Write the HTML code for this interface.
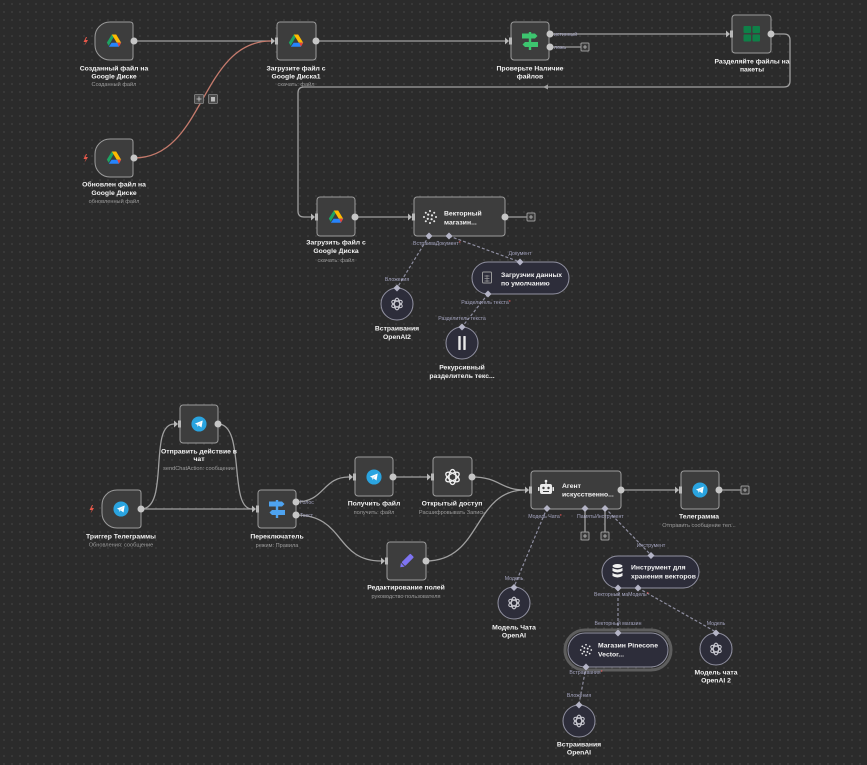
<!DOCTYPE html>
<html><head><meta charset="utf-8"><style>
html,body{margin:0;padding:0;background:#2b2b2b;}
svg{display:block;}
.t{font-family:"Liberation Sans",sans-serif;font-weight:bold;font-size:6.8px;fill:#f2f2f2;text-anchor:middle;}
.tl{font-family:"Liberation Sans",sans-serif;font-weight:bold;font-size:6.8px;fill:#f2f2f2;}
.s{font-family:"Liberation Sans",sans-serif;font-size:5.6px;fill:#9c9c9c;text-anchor:middle;}
.p{font-family:"Liberation Sans",sans-serif;font-size:5.2px;fill:#a4a4bf;}
.pc{font-family:"Liberation Sans",sans-serif;font-size:5.2px;fill:#a4a4bf;text-anchor:middle;}
.r{fill:#ff5a5a;}
.e{fill:none;stroke:#a0a0a0;stroke-width:1.3;}
.d{fill:none;stroke:#8e8ea0;stroke-width:1.2;stroke-dasharray:3 2;}
.n{fill:#3d3d3d;stroke:#9c9c9c;stroke-width:1;}
.c{fill:#2d2d3a;stroke:#9292a2;stroke-width:1;}
.o{fill:#c6c6c6;}
.dm{fill:#b4b4c6;}
.pl{fill:#3a3a3a;stroke:#9a9a9a;stroke-width:1;}
.plt{fill:none;stroke:#bdbdbd;stroke-width:0.8;}
</style></head><body>
<svg width="867" height="765" viewBox="0 0 867 765" xmlns="http://www.w3.org/2000/svg">
<defs>
<pattern id="g" width="8" height="8" patternUnits="userSpaceOnUse"><circle cx="4" cy="4" r="0.65" fill="#525252"/></pattern>
<symbol id="drive" viewBox="-8 -8 16 16">
<polygon points="-2.2,-6.5 1.2,-6.5 -3.6,1.8 -5.3,4.8 -7.2,1.6" fill="#1ea362"/>
<polygon points="-2.2,-6.5 2.2,-6.5 7.2,1.8 2.8,1.8" fill="#ffba00"/>
<polygon points="-2.4,1.8 7.2,1.8 4.9,5.8 -5.2,5.8" fill="#2684fc"/>
<polygon points="3.2,1.8 7.2,1.8 4.9,5.8" fill="#ea4335"/>
</symbol>
<symbol id="tg" viewBox="-9 -9 18 18">
<circle r="8.5" fill="#2aa4e0"/>
<polygon points="-4.6,-0.4 4.2,-3.9 2.8,4 -0.4,1.6 -1.8,3.2 -1.9,1" fill="#fff"/>
<polygon points="-1.9,1 3.2,-2.6 -0.4,1.6" fill="#c8e4f3"/>
</symbol>
<symbol id="oai" viewBox="-10 -10 20 20">
<g fill="none" stroke="currentColor" stroke-width="1.5">
<ellipse rx="3.8" ry="8.3"/>
<ellipse rx="3.8" ry="8.3" transform="rotate(60)"/>
<ellipse rx="3.8" ry="8.3" transform="rotate(120)"/>
</g>
</symbol>
<symbol id="vs" viewBox="-8 -8 16 16">
<g fill="#e8e8e8">
<circle cx="0" cy="-6" r="1"/><circle cx="4.2" cy="-4.2" r="1"/><circle cx="6" cy="0" r="1"/><circle cx="4.2" cy="4.2" r="1"/>
<circle cx="0" cy="6" r="1"/><circle cx="-4.2" cy="4.2" r="1"/><circle cx="-6" cy="0" r="1"/><circle cx="-4.2" cy="-4.2" r="1"/>
<circle cx="-1.8" cy="-2.4" r="1.1"/><circle cx="2" cy="-1.6" r="1.1"/><circle cx="1.6" cy="2.2" r="1.1"/><circle cx="-2.2" cy="1.8" r="1.1"/>
</g>
</symbol>
</defs>
<rect width="867" height="765" fill="#2b2b2b"/>
<rect width="867" height="765" fill="url(#g)"/>

<!-- ===== TOP EDGES ===== -->
<path class="e" d="M134,41 H271"/>
<path d="M134,158 C205,158 200,41 271,41" fill="none" stroke="#c47a6c" stroke-width="1.3"/>
<path class="e" d="M316,41 H505"/>
<path class="e" d="M550,34 H726"/>
<path class="e" d="M550,47 H581"/>
<path class="e" d="M771,34 H784 Q790,34 790,40 V81 Q790,87 784,87 H304 Q298,87 298,93 V211 Q298,217 304,217 H311"/>
<polygon points="543,87 548,84.5 548,89.5" fill="#a0a0a0"/>
<path class="e" d="M355,217 H408"/>
<path class="e" d="M505,217 H527"/>

<!-- red edge buttons -->
<rect x="194.5" y="94.5" width="9" height="9" rx="1" fill="#4a4a4a" stroke="#8a8a8a" stroke-width="0.8"/>
<path d="M199,96.5 V101.5 M196.5,99 H201.5" stroke="#ccc" stroke-width="0.8"/>
<rect x="208.5" y="94.5" width="9" height="9" rx="1" fill="#4a4a4a" stroke="#8a8a8a" stroke-width="0.8"/>
<rect x="211" y="97" width="4" height="4.5" fill="#bbb"/>

<!-- plus buttons top -->
<rect class="pl" x="581" y="43" width="8" height="8" rx="1"/><path class="plt" d="M585,45 V49 M583,47 H587"/>
<rect class="pl" x="527" y="213" width="8" height="8" rx="1"/><path class="plt" d="M531,215 V219 M529,217 H533"/>

<!-- ===== DASHED TOP ===== -->
<path class="d" d="M429,236 L397,288"/>
<path class="d" d="M449,236 L520,262"/>
<path class="d" d="M488,294 L462,327"/>

<!-- ===== TOP NODES ===== -->
<!-- N1 trigger -->
<path class="n" d="M110,22 H130 Q133,22 133,25 V57 Q133,60 130,60 H110 A15,15 0 0 1 95,45 V37 A15,15 0 0 1 110,22 Z"/>
<use href="#drive" x="106" y="33" width="16" height="16"/>
<circle class="o" cx="134" cy="41" r="3.5"/>
<polygon points="86,37 83.5,42 85.8,42 84.5,45.5 88,40 85.6,40 87,37" fill="#e8584a"/>
<text class="t" x="114" y="70.5">Созданный файл на</text>
<text class="t" x="114" y="78.5">Google Диске</text>
<text class="s" x="114" y="86">Созданный файл</text>

<!-- N2 trigger -->
<path class="n" d="M110,139 H130 Q133,139 133,142 V174 Q133,177 130,177 H110 A15,15 0 0 1 95,162 V154 A15,15 0 0 1 110,139 Z"/>
<use href="#drive" x="106" y="150" width="16" height="16"/>
<circle class="o" cx="134" cy="158" r="3.5"/>
<polygon points="86,154 83.5,159 85.8,159 84.5,162.5 88,157 85.6,157 87,154" fill="#e8584a"/>
<text class="t" x="114" y="186.5">Обновлен файл на</text>
<text class="t" x="114" y="195">Google Диске</text>
<text class="s" x="114" y="203">обновленный файл</text>

<!-- N3 -->
<rect class="n" x="277" y="22" width="39" height="38" rx="3"/>
<use href="#drive" x="288" y="33" width="16" height="16"/>
<polygon points="271,37.5 275,41 271,44.5" fill="#b8b8b8"/><rect x="275" y="37.5" width="3" height="7" fill="#b8b8b8"/>
<circle class="o" cx="316" cy="41" r="3.5"/>
<text class="t" x="296" y="70.5">Загрузите файл с</text>
<text class="t" x="296" y="78.5">Google Диска1</text>
<text class="s" x="296" y="86">скачать: файл</text>

<!-- N4 If -->
<rect class="n" x="511" y="22" width="38" height="38" rx="3"/>
<g fill="#3dc46f">
<rect x="528.8" y="32" width="2.4" height="18"/>
<polygon points="522,33.5 535,33.5 537.5,36 535,38.5 522,38.5"/>
<polygon points="538,42 525,42 522.5,44.5 525,47 538,47"/>
</g>
<polygon points="505,37.5 509,41 505,44.5" fill="#b8b8b8"/><rect x="509" y="37.5" width="3" height="7" fill="#b8b8b8"/>
<circle class="o" cx="550" cy="34" r="3.5"/>
<circle class="o" cx="550" cy="47" r="3.5"/>
<text class="p" x="554" y="35.8">истинный</text>
<text class="p" x="554" y="48.8">ложь</text>
<text class="t" x="530" y="70.5">Проверьте Наличие</text>
<text class="t" x="530" y="78.5">файлов</text>

<!-- N5 split -->
<rect class="n" x="732" y="15" width="39" height="38" rx="3"/>
<g fill="#0f8048">
<rect x="743.5" y="26" width="7.5" height="7" rx="1"/><rect x="752.5" y="26" width="7.5" height="7" rx="1"/>
<rect x="743.5" y="34.5" width="7.5" height="7" rx="1"/><rect x="752.5" y="34.5" width="7.5" height="7" rx="1"/>
</g>
<polygon points="726,30.5 730,34 726,37.5" fill="#b8b8b8"/><rect x="730" y="30.5" width="3" height="7" fill="#b8b8b8"/>
<circle class="o" cx="771" cy="34" r="3.5"/>
<text class="t" x="752" y="63.5">Разделяйте файлы на</text>
<text class="t" x="752" y="71.5">пакеты</text>

<!-- N6 -->
<rect class="n" x="317" y="197" width="38" height="39" rx="3"/>
<use href="#drive" x="328" y="209" width="16" height="16"/>
<polygon points="311,213.5 315,217 311,220.5" fill="#b8b8b8"/><rect x="315" y="213.5" width="3" height="7" fill="#b8b8b8"/>
<circle class="o" cx="355" cy="217" r="3.5"/>
<text class="t" x="336" y="244.5">Загрузить файл с</text>
<text class="t" x="336" y="253">Google Диска</text>
<text class="s" x="336" y="262">скачать: файл</text>

<!-- Vector store -->
<rect class="n" x="414" y="197" width="91" height="39" rx="3"/>
<use href="#vs" x="422" y="209" width="16" height="16"/>
<text class="tl" x="444" y="215.5">Векторный</text>
<text class="tl" x="444" y="224.5">магазин...</text>
<polygon points="408,213.5 412,217 408,220.5" fill="#b8b8b8"/><rect x="412" y="213.5" width="3" height="7" fill="#b8b8b8"/>
<circle class="o" cx="505" cy="217" r="3.5"/>
<polygon class="dm" points="429,232.5 432.5,236 429,239.5 425.5,236"/>
<polygon class="dm" points="449,232.5 452.5,236 449,239.5 445.5,236"/>
<text class="p" x="413" y="245">Встраива<tspan>Документ</tspan><tspan class="r">*</tspan></text>

<!-- Loader pill -->
<rect class="c" x="472" y="262" width="97" height="32" rx="16"/>
<rect x="482.5" y="272" width="9" height="11" rx="1" fill="none" stroke="#9a9a9a" stroke-width="1"/>
<path d="M484.5,276 H489.5 M484.5,278.5 H489.5 M484.5,281 H489.5 M487,275 V282" stroke="#9a9a9a" stroke-width="0.7"/>
<text class="tl" x="501" y="277">Загрузчик данных</text>
<text class="tl" x="501" y="285.5">по умолчанию</text>
<polygon class="dm" points="520,258.5 523.5,262 520,265.5 516.5,262"/>
<polygon class="dm" points="488,290.5 491.5,294 488,297.5 484.5,294"/>
<text class="pc" x="520" y="255">Документ</text>
<text class="pc" x="486" y="304">Разделитель текста<tspan class="r">*</tspan></text>

<!-- Emb2 circle -->
<circle class="c" cx="397" cy="304" r="16"/>
<use href="#oai" x="390" y="297" width="14" height="14" color="#c8c8d0"/>
<polygon class="dm" points="397,284.5 400.5,288 397,291.5 393.5,288"/>
<text class="pc" x="397" y="281">Вложения</text>
<text class="t" x="397" y="330.5">Встраивания</text>
<text class="t" x="397" y="339">OpenAI2</text>

<!-- Splitter circle -->
<circle class="c" cx="462" cy="343" r="16"/>
<rect x="458.3" y="336" width="2.4" height="14" rx="0.6" fill="#e8e8e8"/>
<rect x="463.3" y="336" width="2.4" height="14" rx="0.6" fill="#e8e8e8"/>
<polygon class="dm" points="462,323.5 465.5,327 462,330.5 458.5,327"/>
<text class="pc" x="462" y="320">Разделитель текста</text>
<text class="t" x="462" y="369.5">Рекурсивный</text>
<text class="t" x="462" y="378">разделитель текс...</text>

<!-- ===== BOTTOM EDGES ===== -->
<path class="e" d="M141,509 H252"/>
<path class="e" d="M141,509 C170,509 148,424 174,424"/>
<path class="e" d="M218,424 C246,424 228,509 252,509"/>
<path class="e" d="M296,502 C325,502 322,477 349,477"/>
<path class="e" d="M296,515 C345,515 335,561 381,561"/>
<path class="e" d="M393,477 H427"/>
<path class="e" d="M472,477 C500,477 500,490 525,490"/>
<path class="e" d="M426,561 C482,561 473,490 525,490"/>
<path class="e" d="M621,490 H675"/>
<path class="e" d="M719,490 H741"/>
<path class="e" d="M585,508 V532"/>
<path class="e" d="M605,508 V532"/>
<rect class="pl" x="741" y="486" width="8" height="8" rx="1"/><path class="plt" d="M745,488 V492 M743,490 H747"/>
<rect class="pl" x="581" y="532" width="8" height="8" rx="1"/><path class="plt" d="M585,534 V538 M583,536 H587"/>
<rect class="pl" x="601" y="532" width="8" height="8" rx="1"/><path class="plt" d="M605,534 V538 M603,536 H607"/>

<!-- dashed bottom -->
<path class="d" d="M547,508 L514,587"/>
<path class="d" d="M605,508 L651,555"/>
<path class="d" d="M618,588 L618,632"/>
<path class="d" d="M638,588 L716,632"/>
<path class="d" d="M586,667 L579,704"/>

<!-- ===== BOTTOM NODES ===== -->
<!-- Trigger telegram -->
<path class="n" d="M117,490 H138 Q141,490 141,493 V525 Q141,528 138,528 H117 A15,15 0 0 1 102,513 V505 A15,15 0 0 1 117,490 Z"/>
<use href="#tg" x="113" y="501" width="16" height="16"/>
<circle class="o" cx="141" cy="509" r="3.5"/>
<polygon points="92,505 89.5,510 91.8,510 90.5,513.5 94,508 91.6,508 93,505" fill="#e8584a"/>
<text class="t" x="121" y="538.5">Триггер Телеграммы</text>
<text class="s" x="121" y="546.5">Обновления: сообщение</text>

<!-- Send action -->
<rect class="n" x="180" y="405" width="38" height="38" rx="3"/>
<use href="#tg" x="191" y="416" width="16" height="16"/>
<polygon points="174,420.5 178,424 174,427.5" fill="#b8b8b8"/><rect x="178" y="420.5" width="3" height="7" fill="#b8b8b8"/>
<circle class="o" cx="218" cy="424" r="3.5"/>
<text class="t" x="199" y="453.5">Отправить действие в</text>
<text class="t" x="199" y="461">чат</text>
<text class="s" x="199" y="470">sendChatAction: сообщение</text>

<!-- Switch -->
<rect class="n" x="258" y="490" width="38" height="38" rx="3"/>
<g fill="#4ea3f0">
<rect x="275.8" y="500" width="2.4" height="18"/>
<polygon points="269,501.5 282,501.5 284.5,504 282,506.5 269,506.5"/>
<polygon points="285,510 272,510 269.5,512.5 272,515 285,515"/>
</g>
<polygon points="252,505.5 256,509 252,512.5" fill="#b8b8b8"/><rect x="256" y="505.5" width="3" height="7" fill="#b8b8b8"/>
<circle class="o" cx="296" cy="502" r="3.5"/>
<circle class="o" cx="296" cy="515" r="3.5"/>
<text class="p" x="300" y="503.8">Голос</text>
<text class="p" x="300" y="516.8">Текст</text>
<text class="t" x="277" y="538.5">Переключатель</text>
<text class="s" x="277" y="547">режим: Правила</text>

<!-- Get file -->
<rect class="n" x="355" y="457" width="38" height="39" rx="3"/>
<use href="#tg" x="366" y="469" width="16" height="16"/>
<polygon points="349,473.5 353,477 349,480.5" fill="#b8b8b8"/><rect x="353" y="473.5" width="3" height="7" fill="#b8b8b8"/>
<circle class="o" cx="393" cy="477" r="3.5"/>
<text class="t" x="374" y="505.5">Получить файл</text>
<text class="s" x="374" y="514">получить: файл</text>

<!-- Open access -->
<rect class="n" x="433" y="457" width="39" height="39" rx="3"/>
<use href="#oai" x="443.5" y="468" width="18" height="18" color="#eeeeee"/>
<polygon points="427,473.5 431,477 427,480.5" fill="#b8b8b8"/><rect x="431" y="473.5" width="3" height="7" fill="#b8b8b8"/>
<circle class="o" cx="472" cy="477" r="3.5"/>
<text class="t" x="452" y="505.5">Открытый доступ</text>
<text class="s" x="452" y="514">Расшифровывать Запись</text>

<!-- Edit fields -->
<rect class="n" x="387" y="542" width="39" height="38" rx="3"/>
<g transform="translate(406.5,561) rotate(45)">
<rect x="-2.6" y="-8" width="5.2" height="12.5" rx="1" fill="#7e74f2"/>
<polygon points="-2.6,5.3 2.6,5.3 0,8.8" fill="#7e74f2"/>
</g>
<polygon points="381,557.5 385,561 381,564.5" fill="#b8b8b8"/><rect x="385" y="557.5" width="3" height="7" fill="#b8b8b8"/>
<circle class="o" cx="426" cy="561" r="3.5"/>
<text class="t" x="406" y="589.5">Редактирование полей</text>
<text class="s" x="406" y="598">руководство пользователя</text>

<!-- Agent -->
<rect class="n" x="531" y="471" width="90" height="38" rx="3"/>
<g fill="#ececec">
<rect x="545.3" y="481" width="1.4" height="3"/>
<circle cx="546" cy="481" r="1.3"/>
<rect x="540" y="484" width="12" height="10" rx="2"/>
<rect x="538" y="487" width="1.5" height="4" rx="0.5"/>
<rect x="552.5" y="487" width="1.5" height="4" rx="0.5"/>
</g>
<circle cx="543.5" cy="488" r="1.2" fill="#3d3d3d"/><circle cx="548.5" cy="488" r="1.2" fill="#3d3d3d"/>
<rect x="543" y="491" width="6" height="1" fill="#3d3d3d"/>
<text class="tl" x="562" y="488">Агент</text>
<text class="tl" x="562" y="496.5">искусственно...</text>
<polygon points="525,486.5 529,490 525,493.5" fill="#b8b8b8"/><rect x="529" y="486.5" width="3" height="7" fill="#b8b8b8"/>
<circle class="o" cx="621" cy="490" r="3.5"/>
<polygon class="dm" points="547,505 550.5,508.5 547,512 543.5,508.5"/>
<polygon class="dm" points="585,505 588.5,508.5 585,512 581.5,508.5"/>
<polygon class="dm" points="605,505 608.5,508.5 605,512 601.5,508.5"/>
<text class="pc" x="545" y="518">Модель Чата<tspan class="r">*</tspan></text>
<text class="p" x="577" y="518">ПамятьИнструмент</text>

<!-- Telegram -->
<rect class="n" x="681" y="471" width="38" height="38" rx="3"/>
<use href="#tg" x="692" y="482" width="16" height="16"/>
<polygon points="675,486.5 679,490 675,493.5" fill="#b8b8b8"/><rect x="679" y="486.5" width="3" height="7" fill="#b8b8b8"/>
<circle class="o" cx="719" cy="490" r="3.5"/>
<text class="t" x="699" y="518.5">Телеграмма</text>
<text class="s" x="699" y="527">Отправить сообщение тел...</text>

<!-- Chat model circle -->
<circle class="c" cx="514" cy="603" r="16"/>
<use href="#oai" x="507" y="596" width="14" height="14" color="#c8c8d0"/>
<polygon class="dm" points="514,584 517.5,587.5 514,591 510.5,587.5"/>
<text class="pc" x="514" y="580">Модель</text>
<text class="t" x="514" y="629.5">Модель Чата</text>
<text class="t" x="514" y="637.5">OpenAI</text>

<!-- Tool pill -->
<rect class="c" x="602" y="556" width="97" height="32" rx="16"/>
<g fill="#f0f0f0">
<ellipse cx="617.5" cy="566" rx="5" ry="2"/>
<path d="M612.5,568 Q617.5,571 622.5,568 V571 Q617.5,574 612.5,571 Z"/>
<path d="M612.5,573 Q617.5,576 622.5,573 V576 Q617.5,579 612.5,576 Z"/>
</g>
<text class="tl" x="631" y="569.5">Инструмент для</text>
<text class="tl" x="631" y="578.5">хранения векторов</text>
<polygon class="dm" points="651,552 654.5,555.5 651,559 647.5,555.5"/>
<polygon class="dm" points="618,584.5 621.5,588 618,591.5 614.5,588"/>
<polygon class="dm" points="638,584.5 641.5,588 638,591.5 634.5,588"/>
<text class="pc" x="651" y="547">Инструмент</text>
<text class="p" x="594" y="596">Векторный маМодель<tspan class="r">*</tspan></text>

<!-- Pinecone pill (selected) -->
<rect x="565" y="630" width="106" height="40" rx="20" fill="none" stroke="#5e5e5e" stroke-width="3"/>
<rect class="c" x="568" y="633" width="100" height="34" rx="17"/>
<use href="#vs" x="579" y="643" width="14" height="14"/>
<text class="tl" x="598" y="647.5">Магазин Pinecone</text>
<text class="tl" x="598" y="656.5">Vector...</text>
<polygon class="dm" points="618,629.5 621.5,633 618,636.5 614.5,633"/>
<polygon class="dm" points="586,663.5 589.5,667 586,670.5 582.5,667"/>
<text class="pc" x="618" y="625">Векторный магазин</text>
<text class="pc" x="586" y="674">Встраивания<tspan class="r">*</tspan></text>

<!-- Chat model 2 -->
<circle class="c" cx="716" cy="649" r="16"/>
<use href="#oai" x="709" y="642" width="14" height="14" color="#c8c8d0"/>
<polygon class="dm" points="716,629.5 719.5,633 716,636.5 712.5,633"/>
<text class="pc" x="716" y="625">Модель</text>
<text class="t" x="716" y="674.5">Модель чата</text>
<text class="t" x="716" y="682.5">OpenAI 2</text>

<!-- Embeddings -->
<circle class="c" cx="579" cy="721" r="16"/>
<use href="#oai" x="572" y="714" width="14" height="14" color="#c8c8d0"/>
<polygon class="dm" points="579,701.5 582.5,705 579,708.5 575.5,705"/>
<text class="pc" x="579" y="697">Вложения</text>
<text class="t" x="579" y="746.5">Встраивания</text>
<text class="t" x="579" y="754.5">OpenAI</text>
</svg>
</body></html>
